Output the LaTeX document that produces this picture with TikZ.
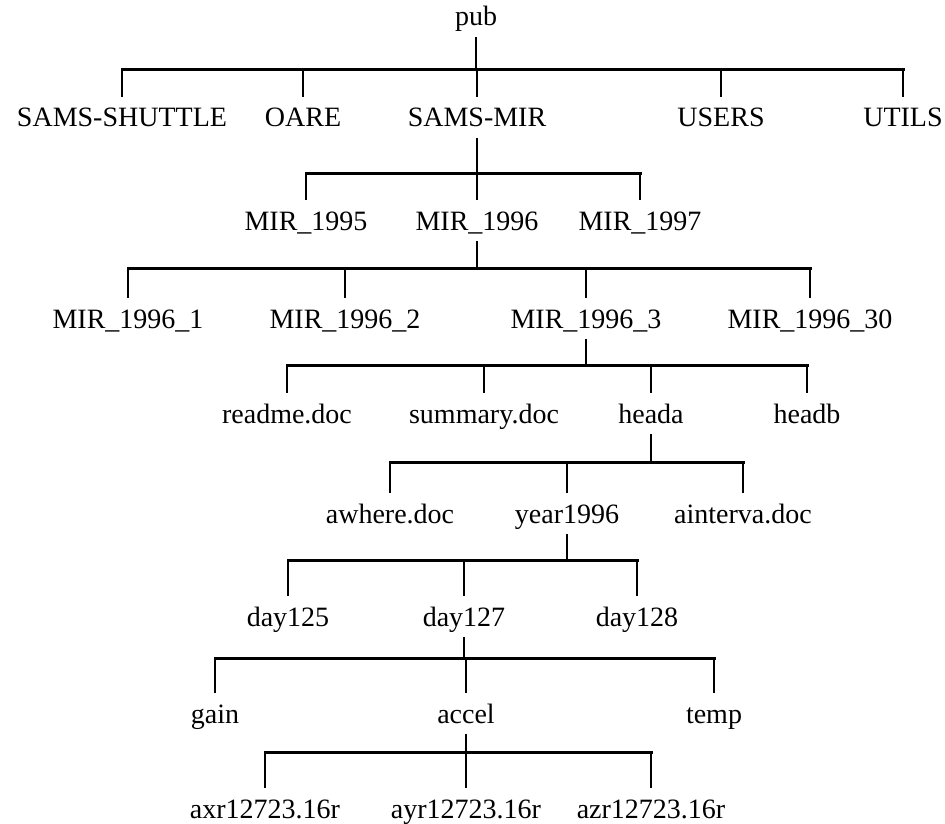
\documentclass[tikz,border=0pt]{standalone}
\usepackage{fontspec}
\setmainfont{Liberation Serif}
\tikzset{
  dir/.style={anchor=base, inner xsep=3pt, inner ysep=11pt, text height=19pt, text depth=0pt, font=\fontsize{28}{30}\selectfont},
  bar/.style={line width=3pt, line cap=rect},
  drop/.style={line width=2pt}
}
\begin{document}
\begin{tikzpicture}[x=1pt, y=1pt]
		\useasboundingbox (0,0) rectangle (945,-824);

		% Directory names
		\node[dir] (pub) at (476,-26) {pub};

		\node[dir] (sshuttle) at (122,-127) {SAMS-SHUTTLE};
		\node[dir] (oare) at (303,-127) {OARE};
		\node[dir] (smir) at (477,-127) {SAMS-MIR};
		\node[dir] (users) at (721,-127) {USERS};
		\node[dir] (utils) at (903,-127) {UTILS};

		\node[dir] (m95) at (306,-230) {MIR\_1995};
		\node[dir] (m96) at (477,-230) {MIR\_1996};
		\node[dir] (m97) at (640,-230) {MIR\_1997};

		\node[dir] (m961) at (128,-328) {MIR\_1996\_1};
		\node[dir] (m962) at (345,-328) {MIR\_1996\_2};
		\node[dir] (m963) at (586,-328) {MIR\_1996\_3};
		\node[dir] (m9630) at (810,-328) {MIR\_1996\_30};

		\node[dir] (readme) at (287,-423) {readme.doc};
		\node[dir] (summary) at (484,-423) {summary.doc};
		\node[dir] (heada) at (651,-423) {heada};
		\node[dir] (headb) at (807,-423) {headb};

		\node[dir] (awhere) at (390,-523) {awhere.doc};
		\node[dir] (year) at (567,-523) {year1996};
		\node[dir] (ainterva) at (743,-523) {ainterva.doc};

		\node[dir] (d125) at (288,-626) {day125};
		\node[dir] (d127) at (464,-626) {day127};
		\node[dir] (d128) at (637,-626) {day128};

		\node[dir] (gain) at (215,-723) {gain};
		\node[dir] (accel) at (466,-723) {accel};
		\node[dir] (temp) at (714,-723) {temp};

		\node[dir] (axr) at (265,-818) {axr12723.16r};
		\node[dir] (ayr) at (466,-818) {ayr12723.16r};
		\node[dir] (azr) at (651,-818) {azr12723.16r};

		% Bar heights
		\coordinate (b1) at (0,-70);
		\coordinate (b2) at (0,-173);
		\coordinate (b3) at (0,-268);
		\coordinate (b4) at (0,-365);
		\coordinate (b5) at (0,-462);
		\coordinate (b6) at (0,-560);
		\coordinate (b7) at (0,-658);
		\coordinate (b8) at (0,-752);

		% Draw pub
		\draw[drop] (pub.south) -- (pub |- b1);
		\draw[bar] (sshuttle |- b1) -- (utils |- b1);
		\foreach \d in {sshuttle,oare,smir,users,utils}
			\draw[drop] (\d |- b1) -- (\d.north);

		% Draw SAMS-MIR
		\draw[drop] (smir.south) -- (smir |- b2);
		\draw[bar] (m95 |- b2) -- (m97 |- b2);
		\foreach \d in {m95,m96,m97}
			\draw[drop] (\d |- b2) -- (\d.north);

		% Draw MIR_1996
		\draw[drop] (m96.south) -- (m96 |- b3);
		\draw[bar] (m961 |- b3) -- (m9630 |- b3);
		\foreach \d in {m961,m962,m963,m9630}
			\draw[drop] (\d |- b3) -- (\d.north);

		% Draw MIR_1996_3
		\draw[drop] (m963.south) -- (m963 |- b4);
		\draw[bar] (readme |- b4) -- (headb |- b4);
		\foreach \d in {readme,summary,heada,headb}
			\draw[drop] (\d |- b4) -- (\d.north);

		% Draw heada
		\draw[drop] (heada.south) -- (heada |- b5);
		\draw[bar] (awhere |- b5) -- (ainterva |- b5);
		\foreach \d in {awhere,year,ainterva}
			\draw[drop] (\d |- b5) -- (\d.north);

		% Draw year1996
		\draw[drop] (year.south) -- (year |- b6);
		\draw[bar] (d125 |- b6) -- (d128 |- b6);
		\foreach \d in {d125,d127,d128}
			\draw[drop] (\d |- b6) -- (\d.north);

		% Draw day127
		\draw[drop] (d127.south) -- (d127 |- b7);
		\draw[bar] (gain |- b7) -- (temp |- b7);
		\foreach \d in {gain,accel,temp}
			\draw[drop] (\d |- b7) -- (\d.north);

		% Draw accel
		\draw[drop] (accel.south) -- (accel |- b8);
		\draw[bar] (axr |- b8) -- (azr |- b8);
		\foreach \d in {axr,ayr,azr}
			\draw[drop] (\d |- b8) -- (\d.north);
	\end{tikzpicture}
\end{document}
